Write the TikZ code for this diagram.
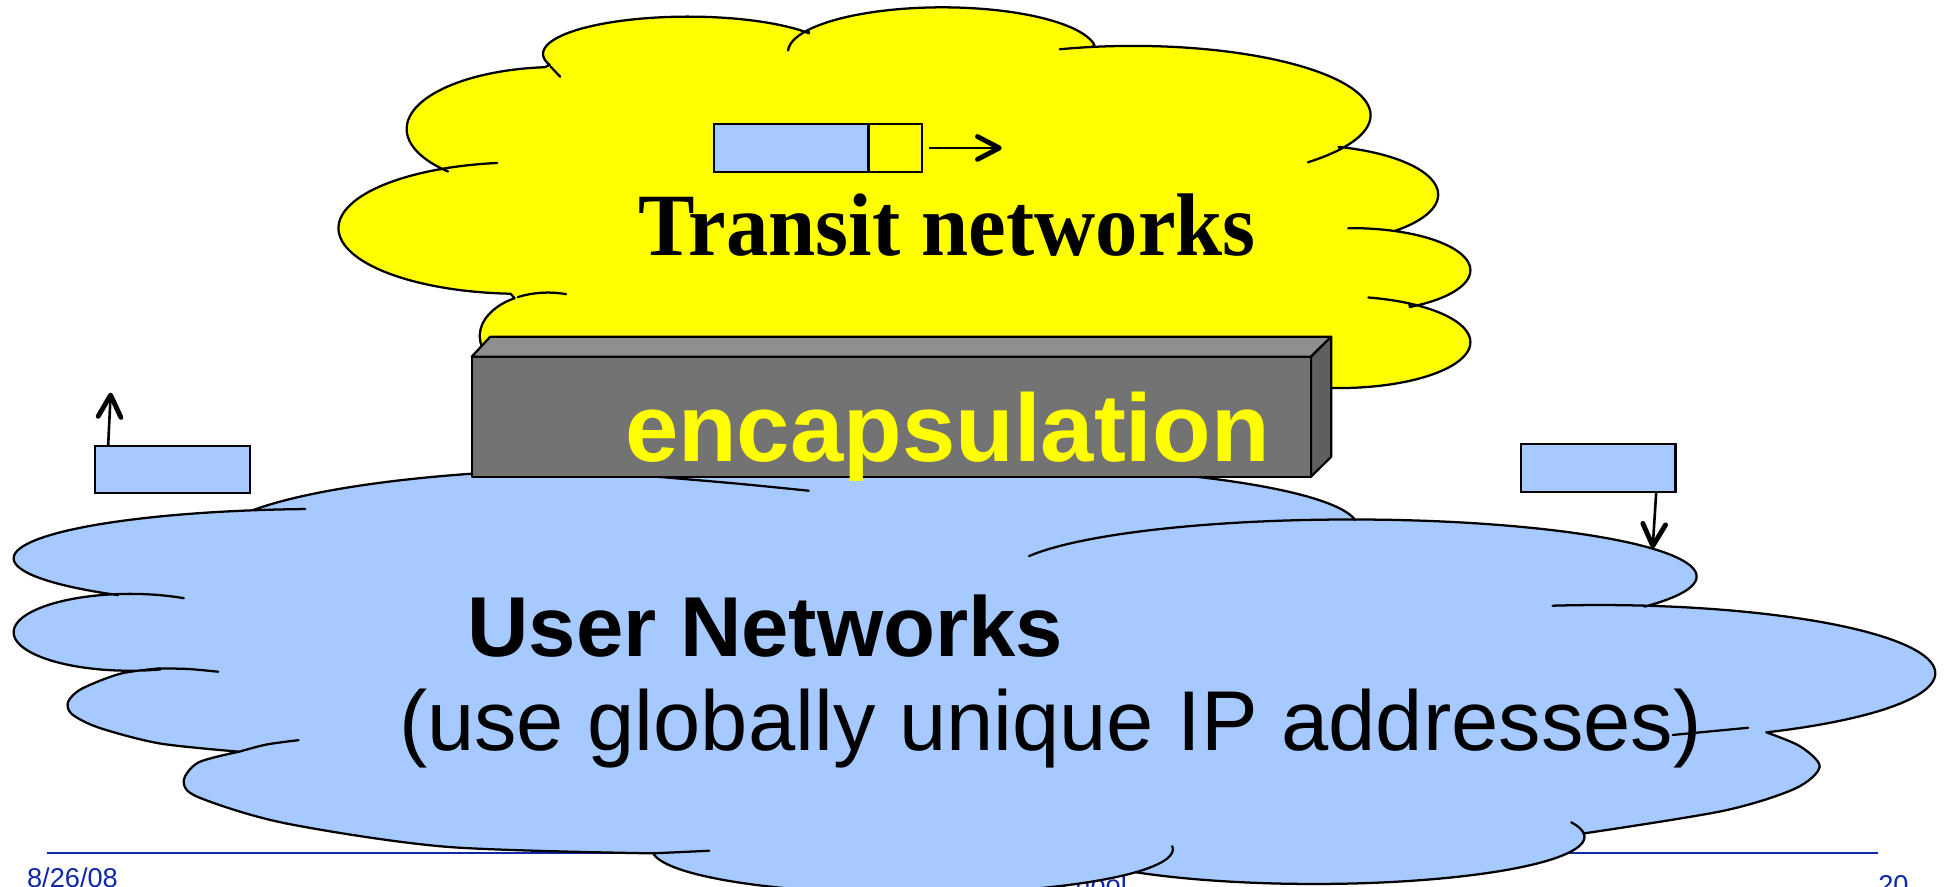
\documentclass[tikz,border=0pt]{standalone}
\usepackage{fontspec}
\setmainfont{Liberation Sans}
\newfontfamily\timesf{Liberation Serif}
\usetikzlibrary{arrows.meta}
\definecolor{cloudyellow}{RGB}{255,255,0}
\definecolor{cloudblue}{RGB}{166,202,255}
\definecolor{footblue}{RGB}{16,40,168}
\definecolor{boxfront}{RGB}{115,115,115}
\definecolor{boxtop}{RGB}{143,143,143}
\definecolor{boxside}{RGB}{94,96,94}
\begin{document}
\begin{tikzpicture}[x=0.0125cm, y=-0.0125cm,
  outline/.style={draw=black, line width=0.65pt, line join=round},
  stub/.style={draw=black, line width=0.65pt, line cap=round},
  boxline/.style={draw=black, line width=0.65pt, line join=round},
  pkt/.style={draw=black, line width=0.65pt, fill=cloudblue, inner sep=0pt},
  arr/.style={line width=0.75pt, -{Straight Barb[length=2.2mm,width=2.3mm,line width=1.4pt,round]}},
  txt/.style={anchor=base west, inner sep=0pt}]
\useasboundingbox (0,0) rectangle (1568,715.4);
\clip (0,0) rectangle (1568,715.4);
\fill[white] (0,0) rectangle (1568,715.4);

% footer (behind the clouds)
\coordinate (fl) at (37.8,687.8);
\coordinate (fr) at (1515,687.8);
\draw[footblue, line width=0.65pt] (fl) -- (fr);
\node[txt, text=footblue, font=\fontsize{7.8}{9}\selectfont] (date) at (21.3,716.1) {8/26/08};
\node[txt, text=footblue, font=\fontsize{7.8}{9}\selectfont] (page) at (1514.5,721.5) {20};
\node[anchor=base east, inner sep=0pt, text=footblue, font=\fontsize{7.8}{9}\selectfont] (foot) at (909.5,721.7) {chool};

% ---------------- yellow cloud ----------------
\path[outline, fill=cloudyellow]
  plot[domain=162.5:326.4, samples=50] ({555+117*cos(\x)},{43.4+30*sin(\x)})
  -- plot[domain=209.7:350.8, samples=50] ({760+124.4*cos(\x)},{42+36.1*sin(\x)})
  -- plot[domain=260:389, samples=60] ({914+191.5*cos(\x)},{93+56*sin(\x)})
  -- plot[domain=285.7:407, samples=50] ({1050+110*cos(\x)},{157+40*sin(\x)})
  -- plot[domain=291.4:420.6, samples=50] ({1090+96*cos(\x)},{218+34*sin(\x)})
  -- plot[domain=302.4:455.4, samples=60] ({1080+106*cos(\x)},{276+37*sin(\x)})
  -- (1062,320) -- (700,330) -- (420,320)
  -- plot[domain=140:240.7, samples=40] ({442+55*cos(\x)},{271+35*sin(\x)})
  -- plot[domain=93.2:244.8, samples=60] ({420+147*cos(\x)},{184+53*sin(\x)})
  -- plot[domain=136.6:265, samples=50] ({450+122*cos(\x)},{104+50*sin(\x)})
  -- cycle;
\draw[stub] (444.2,53.8) -- (451.8,61.9);
\draw[stub] plot[domain=182:209.7, samples=12] ({760+124.4*cos(\x)},{42+36.1*sin(\x)});
\draw[stub] plot[domain=252:260, samples=6] ({914+191.5*cos(\x)},{93+56*sin(\x)});
\draw[stub] plot[domain=389:402.6, samples=8] ({914+191.5*cos(\x)},{93+56*sin(\x)});
\draw[stub] plot[domain=268.5:291.4, samples=10] ({1090+96*cos(\x)},{218+34*sin(\x)});
\draw[stub] plot[domain=282.9:302.4, samples=10] ({1080+106*cos(\x)},{276+37*sin(\x)});
\draw[stub] plot[domain=244.8:262.6, samples=10] ({420+147*cos(\x)},{184+53*sin(\x)});
\draw[stub] plot[domain=243.8:285.3, samples=16] ({442+55*cos(\x)},{271+35*sin(\x)});

% packet in the transit cloud
\node[pkt, minimum width=15.59mm, minimum height=4.84mm] (pk) at (638.25,119.35) {};
\node[pkt, fill=cloudyellow, minimum width=5.39mm, minimum height=4.84mm] (tail) at (722.15,119.35) {};
\coordinate (ta) at (808,119.35);
\draw[arr] ([xshift=0.55mm]tail.east) -- (ta);
\node[txt, font=\timesf\bfseries\fontsize{24.3}{28}\selectfont] (transit) at (514.5,205.7) {\scalebox{1}[1.05]{Transit networks}};

% ---------------- blue cloud ----------------
\path[outline, fill=cloudblue]
  plot[domain=206.5:285, samples=50] ({500+330*cos(\x)},{438+60*sin(\x)})
  -- plot[domain=255:353.5, samples=60] ({780+315*cos(\x)},{425+50*sin(\x)})
  -- plot[domain=270.6:391.9, samples=60] ({1090+278.5*cos(\x)},{465+46*sin(\x)})
  -- plot[domain=277.7:420.2, samples=60] ({1290+271*cos(\x)},{543+55*sin(\x)})
  -- plot[smooth] coordinates {(1424.7,590.7) (1452,602) (1467.7,618.4) (1448,636) (1390,654) (1277.7,672.2)}
  -- plot[domain=-4:131, samples=60] ({1060+218*cos(\x)},{675+38*sin(\x)})
  -- plot[domain=31:174.7, samples=60] ({736+210*cos(\x)},{685+36*sin(\x)})
  -- plot[smooth] coordinates {(526.5,688.3) (360,683) (230,664) (160,643) (148.2,630) (160,615) (192.9,606.3)}
  -- plot[smooth] coordinates {(192.9,606.3) (128.6,599.6) (80,587) (58,576) (55,566) (66,555.5) (97,543.4) (128.6,539.1)}
  -- plot[domain=75:263.9, samples=60] ({105+94*cos(\x)},{510+31*sin(\x)})
  -- plot[domain=131.7:257.1, samples=60] ({262+251*cos(\x)},{450.3+39.8*sin(\x)})
  -- cycle;
\draw[stub] plot[domain=257.1:266.4, samples=8] ({262+251*cos(\x)},{450.3+39.8*sin(\x)});
\draw[stub] plot[domain=263.9:297.4, samples=12] ({105+94*cos(\x)},{510+31*sin(\x)});
\draw[stub] plot[smooth] coordinates {(128.6,539.1) (152,539.6) (176,541.8)};
\draw[stub] plot[smooth] coordinates {(192.9,606.3) (215,600.5) (240.8,597)};
\draw[stub] (526.5,688.3) -- (572,686.2);
\draw[stub] plot[domain=-4:31, samples=14] ({736+210*cos(\x)},{685+36*sin(\x)});
\draw[stub] plot[domain=-18:-4, samples=8] ({1060+218*cos(\x)},{675+38*sin(\x)});
\draw[stub] (1349.2,592.8) -- (1410,587);
\draw[stub] plot[domain=262:277.7, samples=8] ({1290+271*cos(\x)},{543+55*sin(\x)});
\draw[stub] plot[domain=201:270.6, samples=30] ({1090+278.5*cos(\x)},{465+46*sin(\x)});
\draw[stub] plot[smooth] coordinates {(500,382) (591.6,389.8) (652.3,395.8)};

% ---------------- encapsulation box ----------------
\filldraw[boxline, fill=boxtop] (380.5,287.7) -- (395.4,271.6) -- (1073.7,271.6) -- (1057.5,287.7) -- cycle;
\filldraw[boxline, fill=boxside] (1057.5,287.7) -- (1073.7,271.6) -- (1073.7,368.4) -- (1057.5,384.5) -- cycle;
\filldraw[boxline, fill=boxfront] (380.5,287.7) rectangle (1057.5,384.5);
\node[txt, text=cloudyellow, font=\bfseries\fontsize{27.5}{30}\selectfont] (enc) at (503.6,372.4) {encapsulation};

% user network texts
\node[txt, font=\bfseries\fontsize{24.4}{28}\selectfont] (user) at (376.5,529.7) {User Networks};
\node[txt, font=\fontsize{24.35}{28}\selectfont] (use) at (321.3,605) {(use globally unique IP addresses)};

% side packets
\node[pkt, minimum width=15.65mm, minimum height=4.78mm] (lp) at (139,378.8) {};
\coordinate (la) at (89.3,316.7);
\draw[arr] ([xshift=1.475mm]lp.north west) -- (la);
\node[pkt, minimum width=15.59mm, minimum height=4.81mm] (rp) at (1288.95,377.35) {};
\coordinate (ra) at (1333,442.3);
\draw[arr] ([xshift=-2.05mm]rp.south east) -- (ra);
\end{tikzpicture}
\end{document}
